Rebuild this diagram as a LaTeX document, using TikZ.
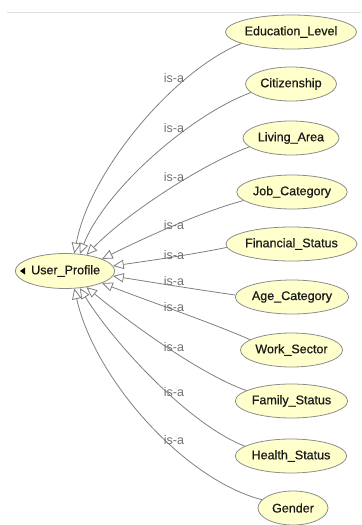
\documentclass[tikz,border=0pt]{standalone}
\usepackage{fontspec}
\setmainfont{Liberation Sans}
\newfontfamily\classfont[FakeBold=0.6]{Liberation Sans}
\usetikzlibrary{shapes.geometric,arrows.meta}
\definecolor{classfill}{HTML}{FFFFCC}
\definecolor{classline}{HTML}{8C8C8C}
\definecolor{edgeline}{HTML}{7F7F7F}
\definecolor{labelgray}{HTML}{707070}
\begin{document}
\begin{tikzpicture}[x=0.75pt,y=-0.75pt,
  ent/.style={ellipse,draw=classline,fill=classfill,line width=0.6pt,
    minimum height=25.5pt,inner sep=0pt,
    font=\classfont\fontsize{9.4}{11}\selectfont,text=black!90},
  isa/.style={draw=edgeline,line width=0.6pt,
    -{Triangle[open,length=8pt,width=7pt]}},
  lbl/.style={font=\fontsize{9.4}{11}\selectfont,text=labelgray,inner sep=0pt}]
\useasboundingbox (0,0) rectangle (361,525);
% thin separator at the top
\draw[black!12,line width=0.6pt] (7,12) -- (361,12);

% classes
\node[ent,minimum width=72pt,minimum height=26.25pt] (up) at (65,271) {\hspace*{1pt}User\_Profile};
\fill[black] (20,271) -- (25,267.5) -- (25,274.5) -- cycle;

\node[ent,minimum width=94.5pt] (e1) at (291,32) {Education\_Level};
\node[ent,minimum width=68.25pt] (e2) at (291,84) {Citizenship};
\node[ent,minimum width=72pt] (e3) at (291,138) {Living\_Area};
\node[ent,minimum width=79.5pt] (e4) at (292,192) {Job\_Category};
\node[ent,minimum width=92.5pt] (e5) at (291.5,244) {Financial\_Status};
\node[ent,minimum width=81pt] (e6) at (292,297) {Age\_Category};
\node[ent,minimum width=72.75pt] (e7) at (291.5,350) {Work\_Sector};
\node[ent,minimum width=80.25pt] (e8) at (291.5,401) {Family\_Status};
\node[ent,minimum width=81pt] (e9) at (291,456) {Health\_Status};
\node[ent,minimum width=52.5pt] (e10) at (293,508) {Gender};

% is-a links
\draw[isa] (e1.193) .. controls (175,70) and (90,170) .. (up.62);
\draw[isa] (e2.192) .. controls (190,115) and (105,190) .. (up.49);
\draw[isa] (e3.192) .. controls (200,165) and (125,215) .. (up.37);
\draw[isa] (e4.190) .. controls (200,212) and (140,240) .. (up.18);
\draw[isa] (e5.183) .. controls (190,255) and (140,262) .. (up.6);
\draw[isa] (e6.178) .. controls (200,290) and (150,282) .. (up.-6);
\draw[isa] (e7.166) .. controls (210,322) and (145,300) .. (up.-18);
\draw[isa] (e8.167) .. controls (195,372) and (120,315) .. (up.-37);
\draw[isa] (e9.168) .. controls (190,425) and (115,345) .. (up.-49);
\draw[isa] (e10.165) .. controls (185,480) and (95,380) .. (up.-62);

% link labels
\node[lbl] (l1) at (174,78) {is-a};
\node[lbl] (l2) at (174,128) {is-a};
\node[lbl] (l3) at (174,177) {is-a};
\node[lbl] (l4) at (174,225) {is-a};
\node[lbl] (l5) at (174,255) {is-a};
\node[lbl] (l6) at (174,281) {is-a};
\node[lbl] (l7) at (174,307) {is-a};
\node[lbl] (l8) at (174,347) {is-a};
\node[lbl] (l9) at (174,392) {is-a};
\node[lbl] (l10) at (174,440) {is-a};
\end{tikzpicture}
\end{document}
